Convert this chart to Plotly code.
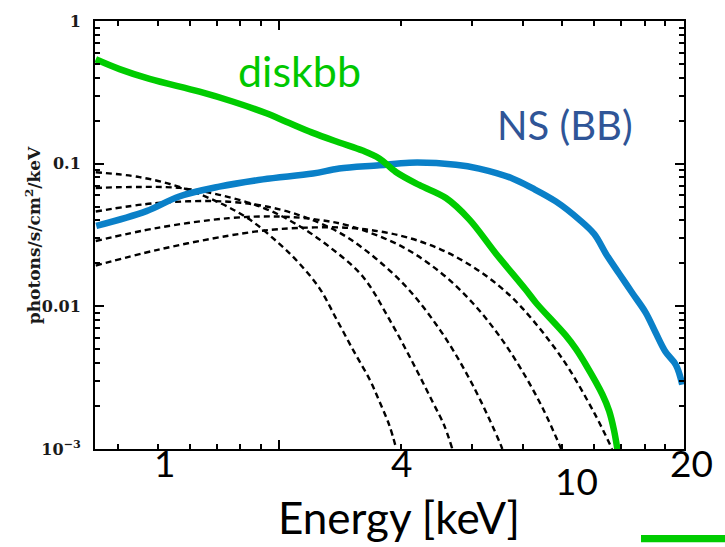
import numpy as np
import plotly.graph_objects as go

# ---- data (energy in keV as labelled, flux in photons/s/cm^2/keV) ----
disk_E = [0.703, 0.805, 0.955, 1.269, 1.531, 1.857, 2.078, 2.41, 2.81, 3.21, 3.53, 3.88,
          4.43, 5.16, 5.89, 6.86, 8.13, 8.61, 10.2, 10.8, 11.45, 12.57, 13.06, 13.43, 13.7]
disk_F = [0.539, 0.46, 0.3926, 0.3195, 0.2727, 0.2255, 0.197, 0.165, 0.1408, 0.1235, 0.1088, 0.0875,
          0.0709, 0.0574, 0.0407, 0.0234, 0.01306, 0.0106, 0.00625, 0.00505, 0.00388, 0.00241, 0.00185, 0.00135, 0.00098]

ns_E = [0.705, 0.938, 1.13, 1.42, 1.82, 2.42, 2.81, 3.53, 4.19, 5.46, 6.23, 7.53, 8.44, 9.64,
        11.0, 12.0, 12.82, 13.82, 14.9, 16.08, 17.0, 18.0, 19.1, 19.8]
ns_F = [0.0366, 0.0465, 0.0589, 0.069, 0.0776, 0.0853, 0.0924, 0.0973, 0.1016, 0.0984, 0.0924, 0.0788, 0.0673, 0.0544,
        0.0407, 0.0321, 0.0234, 0.017, 0.0124, 0.00904, 0.00658, 0.0048, 0.00388, 0.00283]

comp1_E = [0.703, 0.902, 1.132, 1.42, 1.686, 2.0, 2.24, 2.51, 2.77, 3.06, 3.34, 3.53, 3.74, 3.89]
comp1_F = [0.0871, 0.0805, 0.0687, 0.0533, 0.0407, 0.0274, 0.01995, 0.01343, 0.00809, 0.00479, 0.00308, 0.00217, 0.00146, 0.001]
comp2_E = [0.703, 0.902, 1.132, 1.42, 1.816, 2.203, 2.658, 3.21, 3.74, 4.26, 4.77, 5.11, 5.35]
comp2_F = [0.0676, 0.0687, 0.0676, 0.0605, 0.0493, 0.0376, 0.0261, 0.01624, 0.00809, 0.00409, 0.00217, 0.00146, 0.001]
comp3_E = [0.703, 1.0, 1.5, 2.0, 2.5, 3.0, 4.0, 5.0, 6.0, 7.0, 7.11]
comp3_F = [0.0462, 0.053, 0.0541, 0.0478, 0.0386, 0.0294, 0.0149, 0.00676, 0.00283, 0.00112, 0.001]
comp4_E = [0.703, 1.0, 1.5, 2.0, 2.5, 3.0, 4.0, 5.0, 6.0, 7.0, 8.0, 9.0, 9.94]
comp4_F = [0.0287, 0.0355, 0.0415, 0.0426, 0.0404, 0.0364, 0.0264, 0.0173, 0.0106, 0.00617, 0.00345, 0.00187, 0.001]
comp5_E = [0.703, 1.0, 1.5, 2.0, 3.0, 4.0, 5.0, 6.0, 7.0, 8.0, 10.0, 12.0, 13.28]
comp5_F = [0.0193, 0.0249, 0.0313, 0.0348, 0.0354, 0.0312, 0.0251, 0.019, 0.0138, 0.0096, 0.00431, 0.00179, 0.001]

x_tick_labels = ["1", "4", "10", "20"]
x_tick_values = [1, 4, 10, 20]
y_tick_values = [0.001, 0.01, 0.1, 1]
y_tick_text = ["<b>10<sup>\u22123</sup></b>", "<b>0.01</b>", "<b>0.1</b>", "<b>1</b>"]
x_major = [2]
x_minor = [0.8, 1.0, 1.2, 1.4, 1.6, 1.8, 4, 6, 8, 10, 12, 14, 16, 18]
y_minor = [m * 10.0 ** k for k in (-3, -2, -1) for m in range(2, 10)]

fig = go.Figure()
for ex, fx in [(comp1_E, comp1_F), (comp2_E, comp2_F), (comp3_E, comp3_F),
               (comp4_E, comp4_F), (comp5_E, comp5_F)]:
    fig.add_trace(go.Scatter(x=ex, y=fx, mode="lines", line_shape="spline",
                             line=dict(color="black", width=2.4, dash="6px,4px"),
                             showlegend=False, hoverinfo="skip"))

fig.add_trace(go.Scatter(x=ns_E, y=ns_F, mode="lines", line_shape="spline",
                         line=dict(color="#0A80C8", width=6.5), showlegend=False))
fig.add_trace(go.Scatter(x=disk_E, y=disk_F, mode="lines", line_shape="spline",
                         line=dict(color="#00CC00", width=6.5), showlegend=False))

fig.update_layout(
    width=725, height=547, autosize=False,
    margin=dict(l=95, r=41, t=13, b=98, pad=0),
    paper_bgcolor="white", plot_bgcolor="white",
    xaxis=dict(type="log", range=[np.log10(0.7), np.log10(20)],
               showgrid=False, zeroline=False,
               showline=True, linecolor="black", linewidth=2, mirror="allticks",
               ticks="inside", tickvals=x_major, ticklen=9, tickwidth=2, tickcolor="black",
               showticklabels=False,
               minor=dict(tickmode="array", tickvals=x_minor, ticks="inside",
                          ticklen=5, tickwidth=2, tickcolor="black", showgrid=False)),
    yaxis=dict(type="log", range=[-3, 0],
               showgrid=False, zeroline=False,
               showline=True, linecolor="black", linewidth=2, mirror="allticks",
               ticks="inside", tickvals=y_tick_values, ticktext=y_tick_text,
               ticklen=9, tickwidth=2, tickcolor="black",
               ticklabelstandoff=9,
               tickfont=dict(family="DejaVu Serif", size=16, color="#1a1a1a"),
               minor=dict(tickmode="array", tickvals=y_minor, ticks="inside",
                          ticklen=5, tickwidth=2, tickcolor="black", showgrid=False)),
)

# energy labels under the axis
label_shift = {"1": (7, 0), "4": (0, 0), "10": (14, -18), "20": (7, 0)}
for lab, val in zip(x_tick_labels, x_tick_values):
    dx, dy = label_shift[lab]
    fig.add_annotation(x=np.log10(val), xref="x", y=-0.032, yref="paper",
                       text=lab, showarrow=False, xshift=dx, yshift=dy,
                       xanchor="center", yanchor="middle",
                       font=dict(family="Lato", size=37, color="black"))

fig.add_annotation(x=0.516, xref="paper", y=-0.16, yref="paper", text="Energy [keV]",
                   showarrow=False, xanchor="center", yanchor="middle",
                   font=dict(family="Lato", size=44, color="black"))

fig.add_annotation(x=-0.105, xref="paper", y=0.50, yref="paper",
                   text="<b>photons/s/cm<sup>2</sup>/keV</b>", textangle=-90, showarrow=False,
                   xanchor="center", yanchor="middle",
                   font=dict(family="DejaVu Serif", size=17, color="#1a1a1a"))

fig.add_annotation(x=0.348, xref="paper", y=0.885, yref="paper", text="diskbb",
                   showarrow=False, xanchor="center", yanchor="middle",
                   font=dict(family="Lato", size=43, color="#00C800"))
fig.add_annotation(x=0.798, xref="paper", y=0.758, yref="paper", text="NS (BB)",
                   showarrow=False, xanchor="center", yanchor="middle",
                   font=dict(family="Lato", size=40, color="#2F5597"))

fig.add_shape(type="rect", xref="paper", yref="paper",
              x0=0.927, x1=1.07, y0=-0.218, y1=-0.201,
              fillcolor="#00CC00", line=dict(width=0))

fig.write_html("out.html")
